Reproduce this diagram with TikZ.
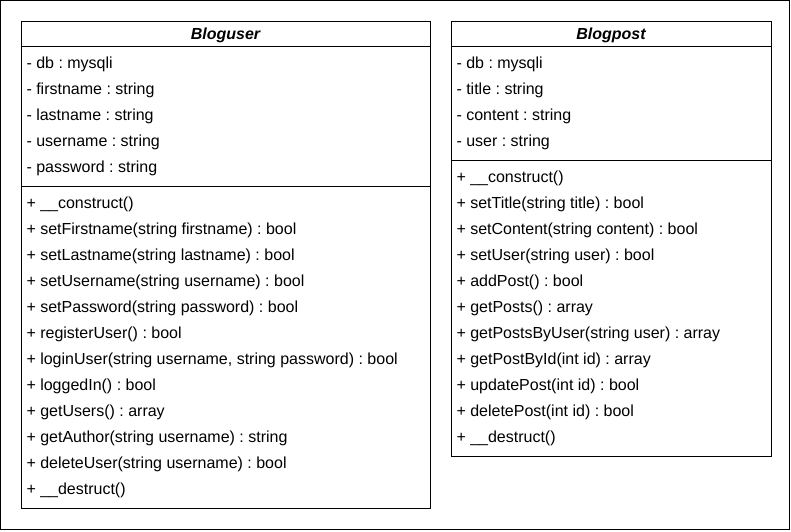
\documentclass[tikz,border=0pt]{standalone}
\usepackage{fontspec}
\setmainfont{Liberation Sans}
\begin{document}
\frenchspacing
\begin{tikzpicture}[x=1pt, y=-1pt, line width=1pt,
  classbox/.style={draw, rectangle, inner sep=0pt, anchor=north west},
  classname/.style={inner sep=0pt, anchor=base,
    font=\fontsize{16}{18}\selectfont\bfseries\itshape},
  member/.style={inner sep=0pt, anchor=base west,
    font=\fontsize{16}{18}\selectfont}]
\useasboundingbox (0,0) rectangle (791,531);
% outer frame
\draw (0.5,0.5) rectangle (789.5,529.5);

% ---------- class Bloguser ----------
\node[classbox, minimum width=409pt, minimum height=487pt] (ucls) at (21,21) {};
\node[classname] (uname) at (225.5,39.5) {Bloguser};
\draw (ucls.west |- 0,46.5) -- (ucls.east |- 0,46.5);
\foreach \t [count=\i from 0] in {
  - db : mysqli,
  - firstname : string,
  - lastname : string,
  - username : string,
  - password : string}
  \node[member] (uattr\i) at (26,68+26*\i) {\t};
\draw (ucls.west |- 0,186) -- (ucls.east |- 0,186);
\foreach \t [count=\i from 0] in {
  + \_\_construct(),
  + setFirstname(string firstname) : bool,
  + setLastname(string lastname) : bool,
  + setUsername(string username) : bool,
  + setPassword(string password) : bool,
  + registerUser() : bool,
  {+ loginUser(string username, string password) : bool},
  + loggedIn() : bool,
  + getUsers() : array,
  + getAuthor(string username) : string,
  + deleteUser(string username) : bool,
  + \_\_destruct()}
  \node[member] (umeth\i) at (26,208+26*\i) {\t};

% ---------- class Blogpost ----------
\node[classbox, minimum width=320pt, minimum height=435pt] (pcls) at (451,21) {};
\node[classname] (pname) at (611,39.5) {Blogpost};
\draw (pcls.west |- 0,46.5) -- (pcls.east |- 0,46.5);
\foreach \t [count=\i from 0] in {
  - db : mysqli,
  - title : string,
  - content : string,
  - user : string}
  \node[member] (pattr\i) at (456,68+26*\i) {\t};
\draw (pcls.west |- 0,160) -- (pcls.east |- 0,160);
\foreach \t [count=\i from 0] in {
  + \_\_construct(),
  + setTitle(string title) : bool,
  + setContent(string content) : bool,
  + setUser(string user) : bool,
  + addPost() : bool,
  + getPosts() : array,
  + getPostsByUser(string user) : array,
  + getPostById(int id) : array,
  + updatePost(int id) : bool,
  + deletePost(int id) : bool,
  + \_\_destruct()}
  \node[member] (pmeth\i) at (456,182+26*\i) {\t};
\end{tikzpicture}
\end{document}
